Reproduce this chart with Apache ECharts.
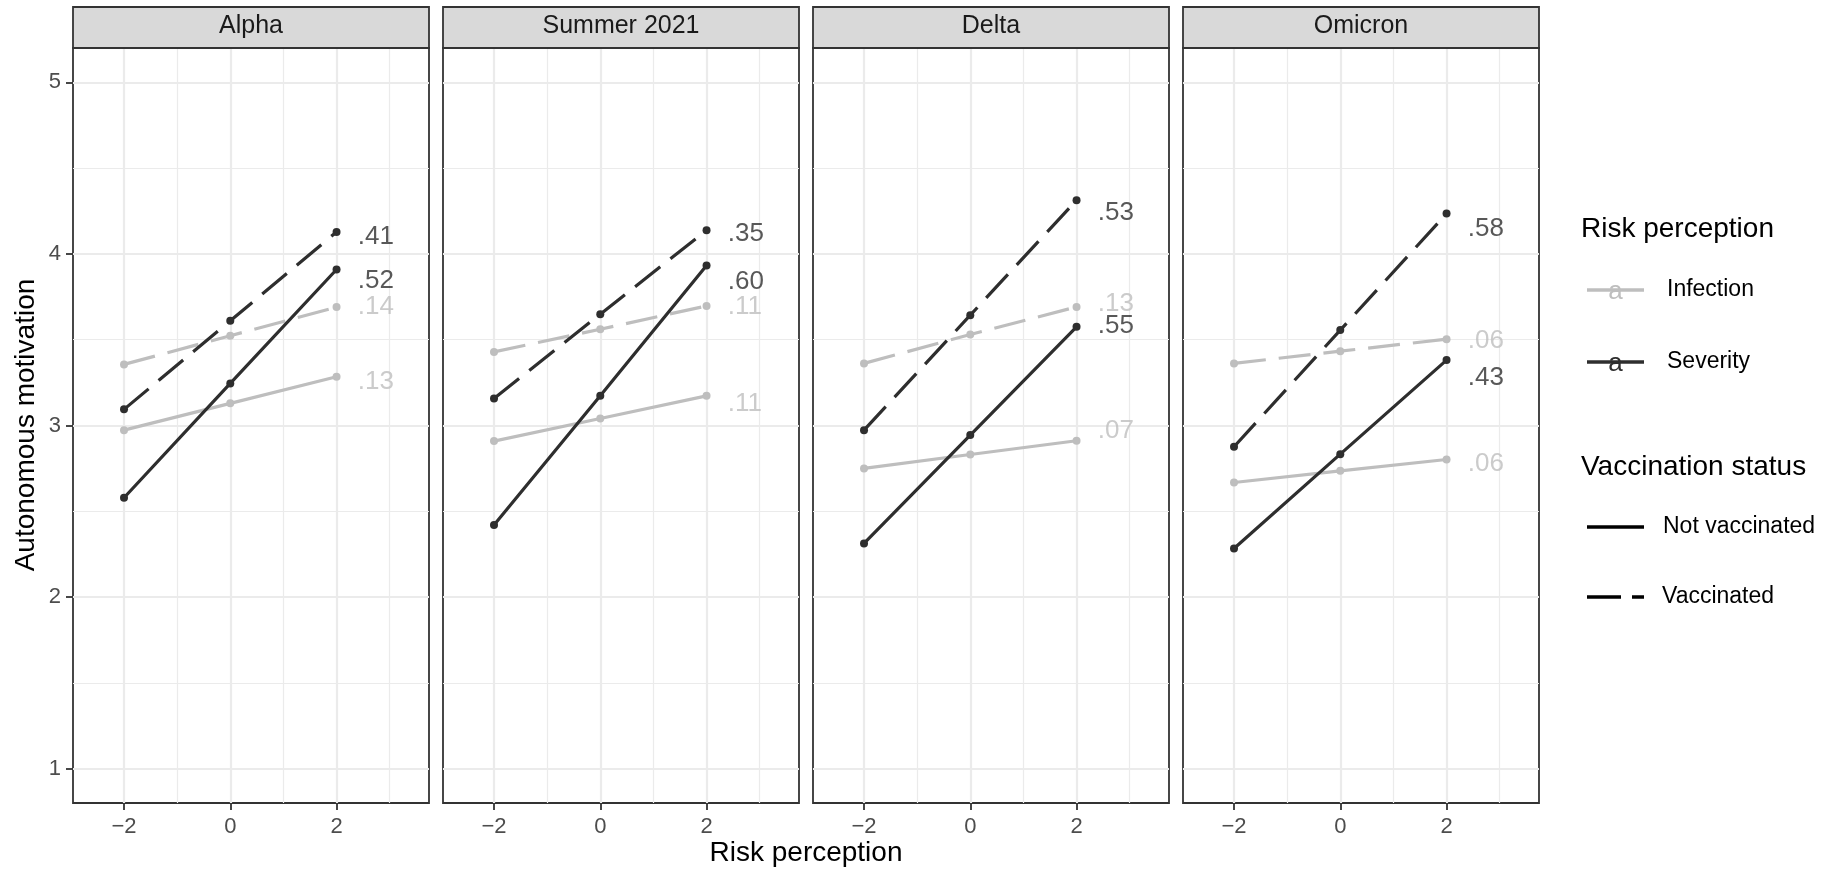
<!DOCTYPE html>
<html>
<head>
<meta charset="utf-8">
<script src="https://cdn.jsdelivr.net/npm/echarts@6/dist/echarts.min.js"></script>
<style>
html,body{margin:0;padding:0;background:#ffffff;}
#chart{width:1829px;height:871px;}
</style>
</head>
<body>
<div id="chart"></div>
<script>
// ---------------- data ----------------
const panels = ['Alpha', 'Summer 2021', 'Delta', 'Omicron'];
const xValues = [-2, 0, 2];
const xTicks = [-2, 0, 2];
const xMinorTicks = [-1, 1, 3];
const yTicks = [1, 2, 3, 4, 5];
const yMinorTicks = [1.5, 2.5, 3.5, 4.5];

// model-implied values at risk perception -2, 0, 2 (one row per panel)
const infectionNotVacc = [
  [2.973, 3.129, 3.284],
  [2.909, 3.041, 3.173],
  [2.750, 2.831, 2.911],
  [2.668, 2.736, 2.802]
];
const infectionVacc = [
  [3.356, 3.523, 3.690],
  [3.429, 3.561, 3.697],
  [3.362, 3.530, 3.691],
  [3.362, 3.433, 3.503]
];
const severityNotVacc = [
  [2.579, 3.245, 3.909],
  [2.420, 3.173, 3.932],
  [2.313, 2.944, 3.575],
  [2.283, 2.833, 3.381]
];
const severityVacc = [
  [3.094, 3.610, 4.128],
  [3.158, 3.649, 4.138],
  [2.973, 3.643, 4.313],
  [2.876, 3.556, 4.235]
];

// slope annotations and where they sit
const slopeInfNV = ['.13', '.11', '.07', '.06'];
const slopeInfV  = ['.14', '.11', '.13', '.06'];
const slopeSevNV = ['.52', '.60', '.55', '.43'];
const slopeSevV  = ['.41', '.35', '.53', '.58'];
const labelYInfNV = [3.253, 3.125, 2.969, 2.775];
const labelYInfV  = [3.691, 3.693, 3.711, 3.493];
const labelYSevNV = [3.843, 3.837, 3.581, 3.280];
const labelYSevV  = [4.099, 4.119, 4.239, 4.146];
const labelX = 2.4;

// ---------------- layout / style ----------------
const FONT = '"Liberation Sans", Arial, Helvetica, sans-serif';
const X_MIN = -2.96, X_MAX = 3.74, Y_MIN = 0.8, Y_MAX = 5.2;
const P_LEFT = 73, P_STEP = 370, P_W = 356, P_TOP = 48, P_H = 755;
const DARK = '#2e2e2e', GREY = '#bebebe';
const DASH = [32, 13];

const grids = [], xAxes = [], yAxes = [], series = [], graphics = [];

function fmtTick(v) { return v < 0 ? '\u2212' + Math.abs(v) : String(v); }

panels.forEach((name, i) => {
  const left = P_LEFT + i * P_STEP;
  grids.push({
    left: left, top: P_TOP, width: P_W, height: P_H,
    show: true, borderColor: '#333333', borderWidth: 1.8, backgroundColor: '#ffffff'
  });
  // minor axes (index 2i)
  xAxes.push({
    type: 'value', gridIndex: i, min: X_MIN, max: X_MAX, position: 'top',
    axisLine: {show: false, onZero: false}, axisLabel: {show: false},
    axisTick: {show: false, customValues: xMinorTicks},
    splitLine: {show: true, lineStyle: {color: '#ebebeb', width: 1.2}}
  });
  yAxes.push({
    type: 'value', gridIndex: i, min: Y_MIN, max: Y_MAX, position: 'right',
    axisLine: {show: false, onZero: false}, axisLabel: {show: false},
    axisTick: {show: false, customValues: yMinorTicks},
    splitLine: {show: true, lineStyle: {color: '#ebebeb', width: 1.2}}
  });
  // main axes (index 2i+1)
  xAxes.push({
    type: 'value', gridIndex: i, min: X_MIN, max: X_MAX, position: 'bottom',
    axisLine: {show: false, onZero: false},
    axisTick: {show: true, length: 7, customValues: xTicks, lineStyle: {color: '#333333', width: 1.8}},
    axisLabel: {show: true, customValues: xTicks, formatter: fmtTick, fontSize: 22, fontFamily: FONT,
                color: '#4d4d4d', margin: 24, verticalAlign: 'middle'},
    splitLine: {show: true, lineStyle: {color: '#ebebeb', width: 2.2}}
  });
  yAxes.push({
    type: 'value', gridIndex: i, min: Y_MIN, max: Y_MAX, position: 'left',
    axisLine: {show: false, onZero: false},
    axisTick: {show: i === 0, length: 7, customValues: yTicks, lineStyle: {color: '#333333', width: 1.8}},
    axisLabel: {show: i === 0, customValues: yTicks, formatter: fmtTick, fontSize: 22, fontFamily: FONT,
                color: '#4d4d4d', margin: 12, align: 'right', verticalAlign: 'middle'},
    splitLine: {show: true, lineStyle: {color: '#ebebeb', width: 2.2}}
  });

  const ax = 2 * i + 1;
  const mk = (vals, color, dashed) => ({
    type: 'line', xAxisIndex: ax, yAxisIndex: ax,
    data: xValues.map((x, k) => [x, vals[k]]),
    symbol: 'circle', symbolSize: 8, showSymbol: true,
    itemStyle: {color: color},
    lineStyle: {color: color, width: 3.2, type: dashed ? DASH : 'solid', cap: 'butt'},
    silent: true, animation: false, z: 3
  });
  series.push(mk(infectionNotVacc[i], GREY, false));
  series.push(mk(infectionVacc[i], GREY, true));
  series.push(mk(severityNotVacc[i], DARK, false));
  series.push(mk(severityVacc[i], DARK, true));

  const lab = (y, txt, color) => ({
    value: [labelX, y], name: txt,
    label: {color: color}
  });
  series.push({
    type: 'scatter', xAxisIndex: ax, yAxisIndex: ax, symbolSize: 0, silent: true, animation: false,
    data: [
      lab(labelYInfNV[i], slopeInfNV[i], GREY),
      lab(labelYInfV[i], slopeInfV[i], GREY),
      lab(labelYSevNV[i], slopeSevNV[i], DARK),
      lab(labelYSevV[i], slopeSevV[i], DARK)
    ],
    label: {show: true, formatter: '{b}', position: 'right', distance: 0, fontSize: 26,
            fontFamily: FONT, align: 'left', verticalAlign: 'middle'},
    z: 4
  });

  // strip
  graphics.push({type: 'rect', shape: {x: left, y: 7, width: P_W, height: 41},
                 style: {fill: '#d9d9d9', stroke: '#333333', lineWidth: 1.8}, z: 10});
  graphics.push({type: 'text', x: left + P_W / 2, y: 26.5,
                 style: {text: name, font: '25px ' + FONT, fill: '#1a1a1a', textAlign: 'center', textVerticalAlign: 'middle'}, z: 11});
});

// axis titles
graphics.push({type: 'text', x: 806, y: 853,
  style: {text: 'Risk perception', font: '28px ' + FONT, fill: '#000000', textAlign: 'center', textVerticalAlign: 'middle'}});
graphics.push({type: 'text', x: 26, y: 425, rotation: Math.PI / 2,
  style: {text: 'Autonomous motivation', font: '28px ' + FONT, fill: '#000000', textAlign: 'center', textVerticalAlign: 'middle'}});

// legend
const LX = 1581;
graphics.push({type: 'text', x: LX, y: 229, style: {text: 'Risk perception', font: '28px ' + FONT, fill: '#000', textAlign: 'left', textVerticalAlign: 'middle'}});
[['Infection', GREY, 290], ['Severity', DARK, 362]].forEach(([t, c, y]) => {
  graphics.push({type: 'line', shape: {x1: 1587, y1: y, x2: 1644, y2: y}, style: {stroke: c, lineWidth: 3.5}});
  graphics.push({type: 'text', x: 1615.5, y: y + 2, style: {text: 'a', font: '26px ' + FONT, fill: c, textAlign: 'center', textVerticalAlign: 'middle'}});
  graphics.push({type: 'text', x: 1667, y: y, style: {text: t, font: '23px ' + FONT, fill: '#000', textAlign: 'left', textVerticalAlign: 'middle'}});
});
graphics.push({type: 'text', x: LX, y: 467, style: {text: 'Vaccination status', font: '28px ' + FONT, fill: '#000', textAlign: 'left', textVerticalAlign: 'middle'}});
graphics.push({type: 'line', shape: {x1: 1587, y1: 527, x2: 1644, y2: 527}, style: {stroke: '#000', lineWidth: 3.5}});
graphics.push({type: 'text', x: 1663, y: 527, style: {text: 'Not vaccinated', font: '23px ' + FONT, fill: '#000', textAlign: 'left', textVerticalAlign: 'middle'}});
graphics.push({type: 'line', shape: {x1: 1587, y1: 597, x2: 1644, y2: 597}, style: {stroke: '#000', lineWidth: 3.5, lineDash: [34, 11]}});
graphics.push({type: 'text', x: 1662, y: 597, style: {text: 'Vaccinated', font: '23px ' + FONT, fill: '#000', textAlign: 'left', textVerticalAlign: 'middle'}});

const chart = echarts.init(document.getElementById('chart'), null, {renderer: 'canvas'});
chart.setOption({
  backgroundColor: '#ffffff',
  animation: false,
  grid: grids,
  xAxis: xAxes,
  yAxis: yAxes,
  series: series,
  graphic: graphics
});
</script>
</body>
</html>
